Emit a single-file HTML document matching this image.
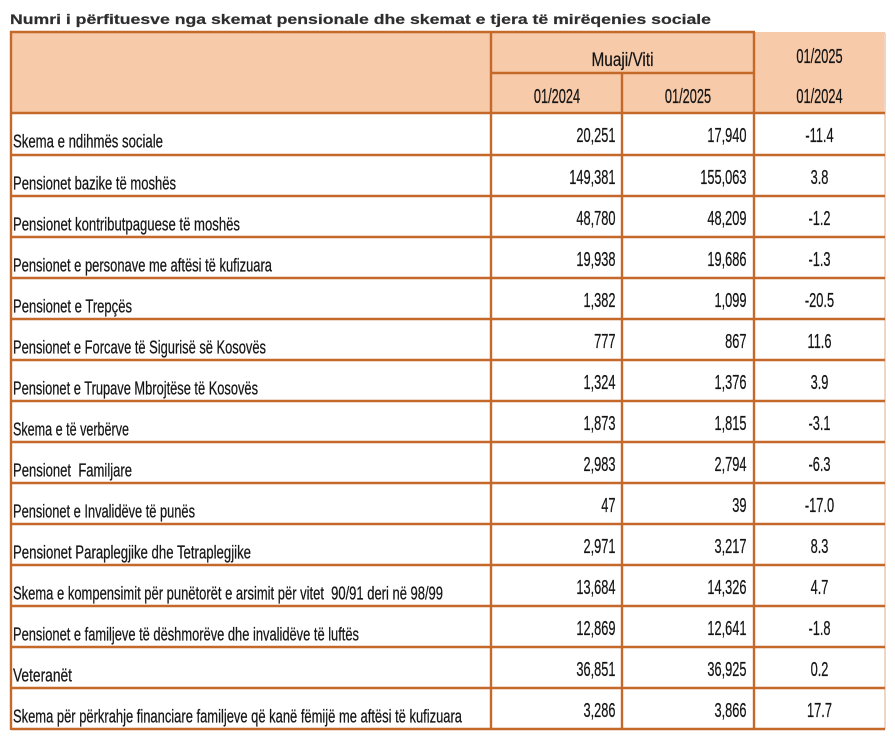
<!DOCTYPE html>
<html>
<head>
<meta charset="utf-8">
<style>
  html,body{margin:0;padding:0;background:#fff;}
  svg{display:block;}
  text{font-family:"Liberation Sans",Arial,sans-serif;fill:#151515;stroke:#151515;stroke-width:0.25;white-space:pre;}
  .lbl{font-size:18px;}
  .num{font-size:20px;}
  .hd{font-size:20px;}
</style>
</head>
<body>
<svg width="895" height="737" viewBox="0 0 895 737" xmlns="http://www.w3.org/2000/svg">
  <rect x="0" y="0" width="895" height="737" fill="#ffffff"/>
  <!-- Title -->
  <text x="10" y="24" style="font-size:14px;font-weight:bold;fill:#2e2e2e;stroke:#2e2e2e;stroke-width:0.2" textLength="701" lengthAdjust="spacingAndGlyphs">Numri i përfituesve nga skemat pensionale dhe skemat e tjera të mirëqenies sociale</text>

  <!-- header fill -->
  <rect x="11" y="32" width="874" height="81" fill="#f7caa9"/>

  <!-- right light edge -->
  <line x1="885" y1="33" x2="885" y2="729" stroke="#efd6c4" stroke-width="2"/>

  <g stroke="#c5692b" stroke-width="2.4" fill="none">
    <!-- top border -->
    <line x1="10" y1="32" x2="755" y2="32"/>
    <!-- left border -->
    <line x1="11" y1="31" x2="11" y2="730"/>
    <!-- header inner -->
    <line x1="491" y1="73" x2="754" y2="73"/>
    <!-- verticals -->
    <line x1="491" y1="32" x2="491" y2="729"/>
    <line x1="622" y1="73" x2="622" y2="729"/>
    <line x1="754" y1="32" x2="754" y2="729"/>
    <!-- horizontals -->
    <line x1="11" y1="113" x2="885" y2="113"/>
    <line x1="11" y1="155" x2="885" y2="155"/>
    <line x1="11" y1="196" x2="885" y2="196"/>
    <line x1="11" y1="237" x2="885" y2="237"/>
    <line x1="11" y1="278" x2="885" y2="278"/>
    <line x1="11" y1="319" x2="885" y2="319"/>
    <line x1="11" y1="360" x2="885" y2="360"/>
    <line x1="11" y1="401" x2="885" y2="401"/>
    <line x1="11" y1="442" x2="885" y2="442"/>
    <line x1="11" y1="483" x2="885" y2="483"/>
    <line x1="11" y1="524" x2="885" y2="524"/>
    <line x1="11" y1="565" x2="885" y2="565"/>
    <line x1="11" y1="606" x2="885" y2="606"/>
    <line x1="11" y1="647" x2="885" y2="647"/>
    <line x1="11" y1="688" x2="885" y2="688"/>
    <line x1="11" y1="729" x2="885" y2="729"/>
  </g>

  <!-- header text -->
  <text x="622.5" y="66" text-anchor="middle" style="font-size:19px" textLength="62" lengthAdjust="spacingAndGlyphs">Muaji/Viti</text>
  <text class="hd" text-anchor="middle" transform="translate(557,103) scale(0.64,1)">01/2024</text>
  <text class="hd" text-anchor="middle" transform="translate(688,103) scale(0.64,1)">01/2025</text>
  <text class="hd" text-anchor="middle" transform="translate(819.5,63) scale(0.64,1)">01/2025</text>
  <text class="hd" text-anchor="middle" transform="translate(819.5,103) scale(0.64,1)">01/2024</text>

  <!-- labels -->
  <text class="lbl" x="13" y="147.5" textLength="150" lengthAdjust="spacingAndGlyphs">Skema e ndihmës sociale</text>
  <text class="lbl" x="13" y="189.5" textLength="163" lengthAdjust="spacingAndGlyphs">Pensionet bazike të moshës</text>
  <text class="lbl" x="13" y="230.5" textLength="227" lengthAdjust="spacingAndGlyphs">Pensionet kontributpaguese të moshës</text>
  <text class="lbl" x="13" y="271.5" textLength="259" lengthAdjust="spacingAndGlyphs">Pensionet e personave me aftësi të kufizuara</text>
  <text class="lbl" x="13" y="312.5" textLength="119" lengthAdjust="spacingAndGlyphs">Pensionet e Trepçës</text>
  <text class="lbl" x="13" y="353.5" textLength="253" lengthAdjust="spacingAndGlyphs">Pensionet e Forcave të Sigurisë së Kosovës</text>
  <text class="lbl" x="13" y="394.5" textLength="245" lengthAdjust="spacingAndGlyphs">Pensionet e Trupave Mbrojtëse të Kosovës</text>
  <text class="lbl" x="13" y="435.5" textLength="116" lengthAdjust="spacingAndGlyphs">Skema e të verbërve</text>
  <text class="lbl" x="13" y="476.5" textLength="119" lengthAdjust="spacingAndGlyphs">Pensionet  Familjare</text>
  <text class="lbl" x="13" y="517.5" textLength="182" lengthAdjust="spacingAndGlyphs">Pensionet e Invalidëve të punës</text>
  <text class="lbl" x="13" y="558.5" textLength="238" lengthAdjust="spacingAndGlyphs">Pensionet Paraplegjike dhe Tetraplegjike</text>
  <text class="lbl" x="13" y="599.5" textLength="430" lengthAdjust="spacingAndGlyphs">Skema e kompensimit për punëtorët e arsimit për vitet  90/91 deri në 98/99</text>
  <text class="lbl" x="13" y="640.5" textLength="346" lengthAdjust="spacingAndGlyphs">Pensionet e familjeve të dëshmorëve dhe invalidëve të luftës</text>
  <text class="lbl" x="13" y="681.5" textLength="59" lengthAdjust="spacingAndGlyphs">Veteranët</text>
  <text class="lbl" x="13" y="722.5" textLength="449" lengthAdjust="spacingAndGlyphs">Skema për përkrahje financiare familjeve që kanë fëmijë me aftësi të kufizuara</text>

  <!-- column 1 -->
  <g text-anchor="end">
    <text class="num" transform="translate(615.5,142) scale(0.64,1)">20,251</text>
    <text class="num" transform="translate(615.5,184) scale(0.64,1)">149,381</text>
    <text class="num" transform="translate(615.5,225) scale(0.64,1)">48,780</text>
    <text class="num" transform="translate(615.5,266) scale(0.64,1)">19,938</text>
    <text class="num" transform="translate(615.5,307) scale(0.64,1)">1,382</text>
    <text class="num" transform="translate(615.5,348) scale(0.64,1)">777</text>
    <text class="num" transform="translate(615.5,389) scale(0.64,1)">1,324</text>
    <text class="num" transform="translate(615.5,430) scale(0.64,1)">1,873</text>
    <text class="num" transform="translate(615.5,471) scale(0.64,1)">2,983</text>
    <text class="num" transform="translate(615.5,512) scale(0.64,1)">47</text>
    <text class="num" transform="translate(615.5,553) scale(0.64,1)">2,971</text>
    <text class="num" transform="translate(615.5,594) scale(0.64,1)">13,684</text>
    <text class="num" transform="translate(615.5,635) scale(0.64,1)">12,869</text>
    <text class="num" transform="translate(615.5,676) scale(0.64,1)">36,851</text>
    <text class="num" transform="translate(615.5,717) scale(0.64,1)">3,286</text>
  </g>

  <!-- column 2 -->
  <g text-anchor="end">
    <text class="num" transform="translate(746.5,142) scale(0.64,1)">17,940</text>
    <text class="num" transform="translate(746.5,184) scale(0.64,1)">155,063</text>
    <text class="num" transform="translate(746.5,225) scale(0.64,1)">48,209</text>
    <text class="num" transform="translate(746.5,266) scale(0.64,1)">19,686</text>
    <text class="num" transform="translate(746.5,307) scale(0.64,1)">1,099</text>
    <text class="num" transform="translate(746.5,348) scale(0.64,1)">867</text>
    <text class="num" transform="translate(746.5,389) scale(0.64,1)">1,376</text>
    <text class="num" transform="translate(746.5,430) scale(0.64,1)">1,815</text>
    <text class="num" transform="translate(746.5,471) scale(0.64,1)">2,794</text>
    <text class="num" transform="translate(746.5,512) scale(0.64,1)">39</text>
    <text class="num" transform="translate(746.5,553) scale(0.64,1)">3,217</text>
    <text class="num" transform="translate(746.5,594) scale(0.64,1)">14,326</text>
    <text class="num" transform="translate(746.5,635) scale(0.64,1)">12,641</text>
    <text class="num" transform="translate(746.5,676) scale(0.64,1)">36,925</text>
    <text class="num" transform="translate(746.5,717) scale(0.64,1)">3,866</text>
  </g>

  <!-- column 3 -->
  <g text-anchor="middle">
    <text class="num" transform="translate(819.5,142) scale(0.64,1)">-11.4</text>
    <text class="num" transform="translate(819.5,184) scale(0.64,1)">3.8</text>
    <text class="num" transform="translate(819.5,225) scale(0.64,1)">-1.2</text>
    <text class="num" transform="translate(819.5,266) scale(0.64,1)">-1.3</text>
    <text class="num" transform="translate(819.5,307) scale(0.64,1)">-20.5</text>
    <text class="num" transform="translate(819.5,348) scale(0.64,1)">11.6</text>
    <text class="num" transform="translate(819.5,389) scale(0.64,1)">3.9</text>
    <text class="num" transform="translate(819.5,430) scale(0.64,1)">-3.1</text>
    <text class="num" transform="translate(819.5,471) scale(0.64,1)">-6.3</text>
    <text class="num" transform="translate(819.5,512) scale(0.64,1)">-17.0</text>
    <text class="num" transform="translate(819.5,553) scale(0.64,1)">8.3</text>
    <text class="num" transform="translate(819.5,594) scale(0.64,1)">4.7</text>
    <text class="num" transform="translate(819.5,635) scale(0.64,1)">-1.8</text>
    <text class="num" transform="translate(819.5,676) scale(0.64,1)">0.2</text>
    <text class="num" transform="translate(819.5,717) scale(0.64,1)">17.7</text>
  </g>
</svg>
</body>
</html>
